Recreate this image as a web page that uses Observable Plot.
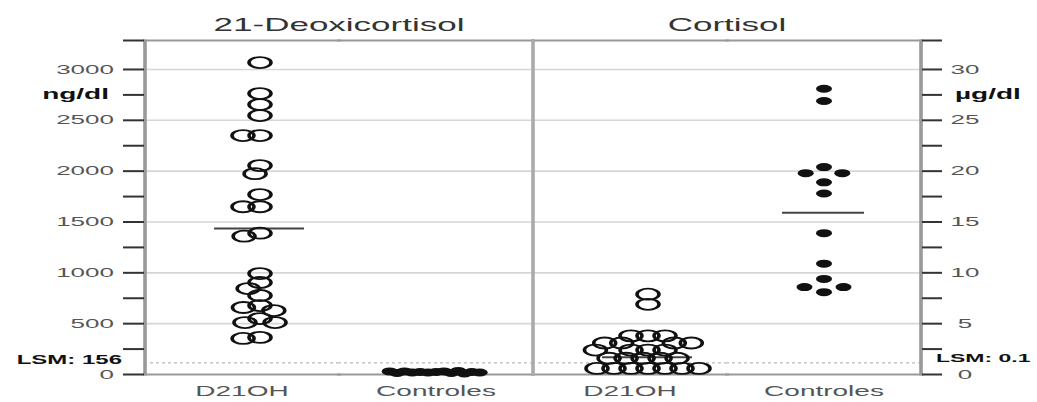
<!DOCTYPE html>
<html>
<head>
<meta charset="utf-8">
<script src="https://cdn.jsdelivr.net/npm/d3@7"></script>
<script src="https://cdn.jsdelivr.net/npm/@observablehq/plot@0.6"></script>
<style>
  body { margin: 0; background: #fff; }
  #chart { width: 1037px; height: 402px; overflow: hidden; }
</style>
</head>
<body>
<div id="chart"></div>
<script>
// ---- data ----
const panels = ["21-Deoxicortisol", "Cortisol"];
const groups = ["D21OH", "Controles"];
const units = ["ng/dl", "µg/dl"];
const lsmLabels = ["LSM: 156", "LSM: 0.1"];
const lsmLines = [115, 1.15];            // ng/dl, µg/dl (dotted lines)

// 21-Deoxicortisol (ng/dl)
const deoxiD21OH = [3068, 2763, 2655, 2547, 2350, 2350, 2055, 1975, 1770, 1650, 1650, 1390, 1360,
                    993, 905, 845, 777, 678, 659, 629, 550, 511, 511, 365, 355];
const deoxiControles = [25, 20, 30, 15, 25, 35, 20, 10, 30, 25, 15, 20, 30];
// Cortisol (µg/dl)
const cortisolD21OH = [7.9, 6.9, 3.8, 3.8, 3.8, 3.1, 3.1, 3.1, 3.1, 2.4, 2.4, 2.4, 2.4,
                       1.6, 1.6, 1.6, 1.6, 1.6, 0.6, 0.6, 0.6, 0.6, 0.6, 0.6, 0.6];
const cortisolControles = [28.1, 26.9, 20.4, 18.9, 17.8, 19.8, 19.8, 13.9, 10.9, 9.4, 8.1, 8.6, 8.6];
// horizontal mean lines
const meanDeoxi = [1435];                // D21OH
const meanCortisol = [1.7, 15.9];        // D21OH, Controles

// axis ticks
const leftTicks = [0, 250, 500, 750, 1000, 1250, 1500, 1750, 2000, 2250, 2500, 2750, 3000];
const leftTickLabels = ["0", "", "500", "", "1000", "", "1500", "", "2000", "", "2500", "", "3000"];
const rightTickLabels = ["0", "", "5", "", "10", "", "15", "", "20", "", "25", "", "30"];
const gridTicks = [500, 1000, 1500, 2000, 2500, 3000];
const unitTick = 2750;
const yMax = 3285;                       // top of the frame, ng/dl
const cortisolToAxis = 100;              // right axis 30 µg/dl aligns with 3000 ng/dl

// ---- layout ----
const STRETCH = 2;                       // reference is stretched horizontally
const W = 1037 / STRETCH;
const ML = 71.5, MR = 57.5, MT = 40, MB = 28;
const key = (p, g) => p + "|" + g;
const fxDomain = panels.flatMap(p => groups.map(g => key(p, g)));
const groupDx = {D21OH: 9, Controles: 0};

const hollow = [
  ...deoxiD21OH.map(v => ({key: key(panels[0], groups[0]), y: v})),
  ...cortisolD21OH.map(v => ({key: key(panels[1], groups[0]), y: v * cortisolToAxis}))
];
const filled = [
  ...deoxiControles.map(v => ({key: key(panels[0], groups[1]), y: v})),
  ...cortisolControles.map(v => ({key: key(panels[1], groups[1]), y: v * cortisolToAxis}))
];
const means = [
  {key: key(panels[0], groups[0]), group: groups[0], y: meanDeoxi[0]},
  {key: key(panels[1], groups[0]), group: groups[0], y: meanCortisol[0] * cortisolToAxis},
  {key: key(panels[1], groups[1]), group: groups[1], y: meanCortisol[1] * cortisolToAxis}
];
const lsmRows = fxDomain.map(k => ({
  key: k, y: k.startsWith(panels[0]) ? lsmLines[0] : lsmLines[1] * cortisolToAxis
}));
const titleRows = panels.map(p => ({key: key(p, groups[1]), text: p}));
const leftFmt = new Map(leftTicks.map((t, i) => [t, leftTickLabels[i]]));
const rightFmt = new Map(leftTicks.map((t, i) => [t, rightTickLabels[i]]));
const axisTicks = [...leftTicks, yMax];

const svg = Plot.plot({
  width: W,
  height: 402,
  marginLeft: ML, marginRight: MR, marginTop: MT, marginBottom: MB,
  style: {fontFamily: "Liberation Sans, Arial, sans-serif", fontSize: "13px", color: "#222", background: "#fff"},
  fx: {domain: fxDomain, padding: 0, axis: null},
  y: {domain: [0, yMax], axis: null},
  marks: [
    Plot.gridY({ticks: gridTicks, stroke: "#d6d6d6", strokeOpacity: 1, strokeWidth: 1.6}),
    Plot.ruleY(lsmRows, {fx: "key", y: "y", stroke: "#bbb", strokeWidth: 1.2, strokeDasharray: "1.5,1.5"}),
    Plot.frame({anchor: "top", stroke: "#999", strokeWidth: 2}),
    Plot.frame({anchor: "bottom", stroke: "#999", strokeWidth: 2}),
    Plot.frame({anchor: "left", fx: key(panels[0], groups[0]), stroke: "#999", strokeWidth: 1.8}),
    Plot.frame({anchor: "left", fx: key(panels[1], groups[0]), stroke: "#aaa", strokeWidth: 1.8}),
    Plot.frame({anchor: "right", fx: key(panels[1], groups[1]), stroke: "#999", strokeWidth: 1.8}),
    Plot.axisY({anchor: "left", ticks: axisTicks, tickSize: 10.5, tickPadding: 5, strokeWidth: 2,
      stroke: "#333", fill: "#555", fontSize: 13, label: null,
      tickFormat: d => leftFmt.get(d) ?? ""}),
    Plot.axisY({anchor: "right", ticks: axisTicks, tickSize: 10, tickPadding: 12, strokeWidth: 2,
      stroke: "#333", fill: "#555", fontSize: 13, label: null, textAnchor: "middle",
      tickFormat: d => rightFmt.get(d) ?? ""}),
    Plot.axisFx({anchor: "bottom", tickSize: 0, tickPadding: 12, label: null, fontSize: 14, fill: "#555",
      tickFormat: k => k.split("|")[1]}),
    Plot.tickY(means.filter(d => d.group === "D21OH"), {fx: "key", y: "y", dx: groupDx.D21OH,
      insetLeft: 26, insetRight: 26, stroke: "#444", strokeWidth: 2}),
    Plot.tickY(means.filter(d => d.group === "Controles"), {fx: "key", y: "y", dx: groupDx.Controles,
      insetLeft: 28, insetRight: 28, stroke: "#444", strokeWidth: 2}),
    Plot.dot(hollow, Plot.dodgeX({anchor: "middle", padding: -2.5},
      {fx: "key", y: "y", r: 5.5, dx: groupDx.D21OH, fill: "none", stroke: "#111", strokeWidth: 1.8})),
    Plot.dot(filled.filter(d => d.key.startsWith(panels[0])), Plot.dodgeX({anchor: "middle", padding: -4},
      {fx: "key", y: "y", r: 4, dx: groupDx.Controles, fill: "#111", stroke: "none"})),
    Plot.dot(filled.filter(d => d.key.startsWith(panels[1])), Plot.dodgeX({anchor: "middle", padding: 3},
      {fx: "key", y: "y", r: 4, dx: groupDx.Controles, fill: "#111", stroke: "none"})),
    Plot.text(titleRows, {fx: "key", text: "text", frameAnchor: "top-left", textAnchor: "middle",
      lineAnchor: "middle", dy: -15, fontSize: 17.5, fill: "#333"}),
    Plot.text([{key: fxDomain[0], y: unitTick, text: units[0]}], {fx: "key", y: "y", text: "text",
      frameAnchor: "left", textAnchor: "end", dx: -18, fontSize: 14, fontWeight: "bold", fill: "#111"}),
    Plot.text([{key: fxDomain[3], y: unitTick, text: units[1]}], {fx: "key", y: "y", text: "text",
      frameAnchor: "right", textAnchor: "start", dx: 17, fontSize: 14, fontWeight: "bold", fill: "#111"}),
    Plot.text([{key: fxDomain[0], y: lsmLines[0] + 25, text: lsmLabels[0]}], {fx: "key", y: "y", text: "text",
      frameAnchor: "left", textAnchor: "end", dx: -11.5, fontSize: 12, fontWeight: "bold", fill: "#111"}),
    Plot.text([{key: fxDomain[3], y: lsmLines[1] * cortisolToAxis + 40, text: lsmLabels[1]}], {fx: "key", y: "y", text: "text",
      frameAnchor: "right", textAnchor: "start", dx: 7.5, fontSize: 11.5, fontWeight: "bold", fill: "#111"})
  ]
});

svg.setAttribute("width", 1037);
svg.setAttribute("height", 402);
svg.setAttribute("viewBox", `0 0 ${W} 402`);
svg.setAttribute("preserveAspectRatio", "none");
svg.style.width = "1037px";
svg.style.height = "402px";
svg.style.maxWidth = "none";
document.getElementById("chart").appendChild(svg);
</script>
</body>
</html>
